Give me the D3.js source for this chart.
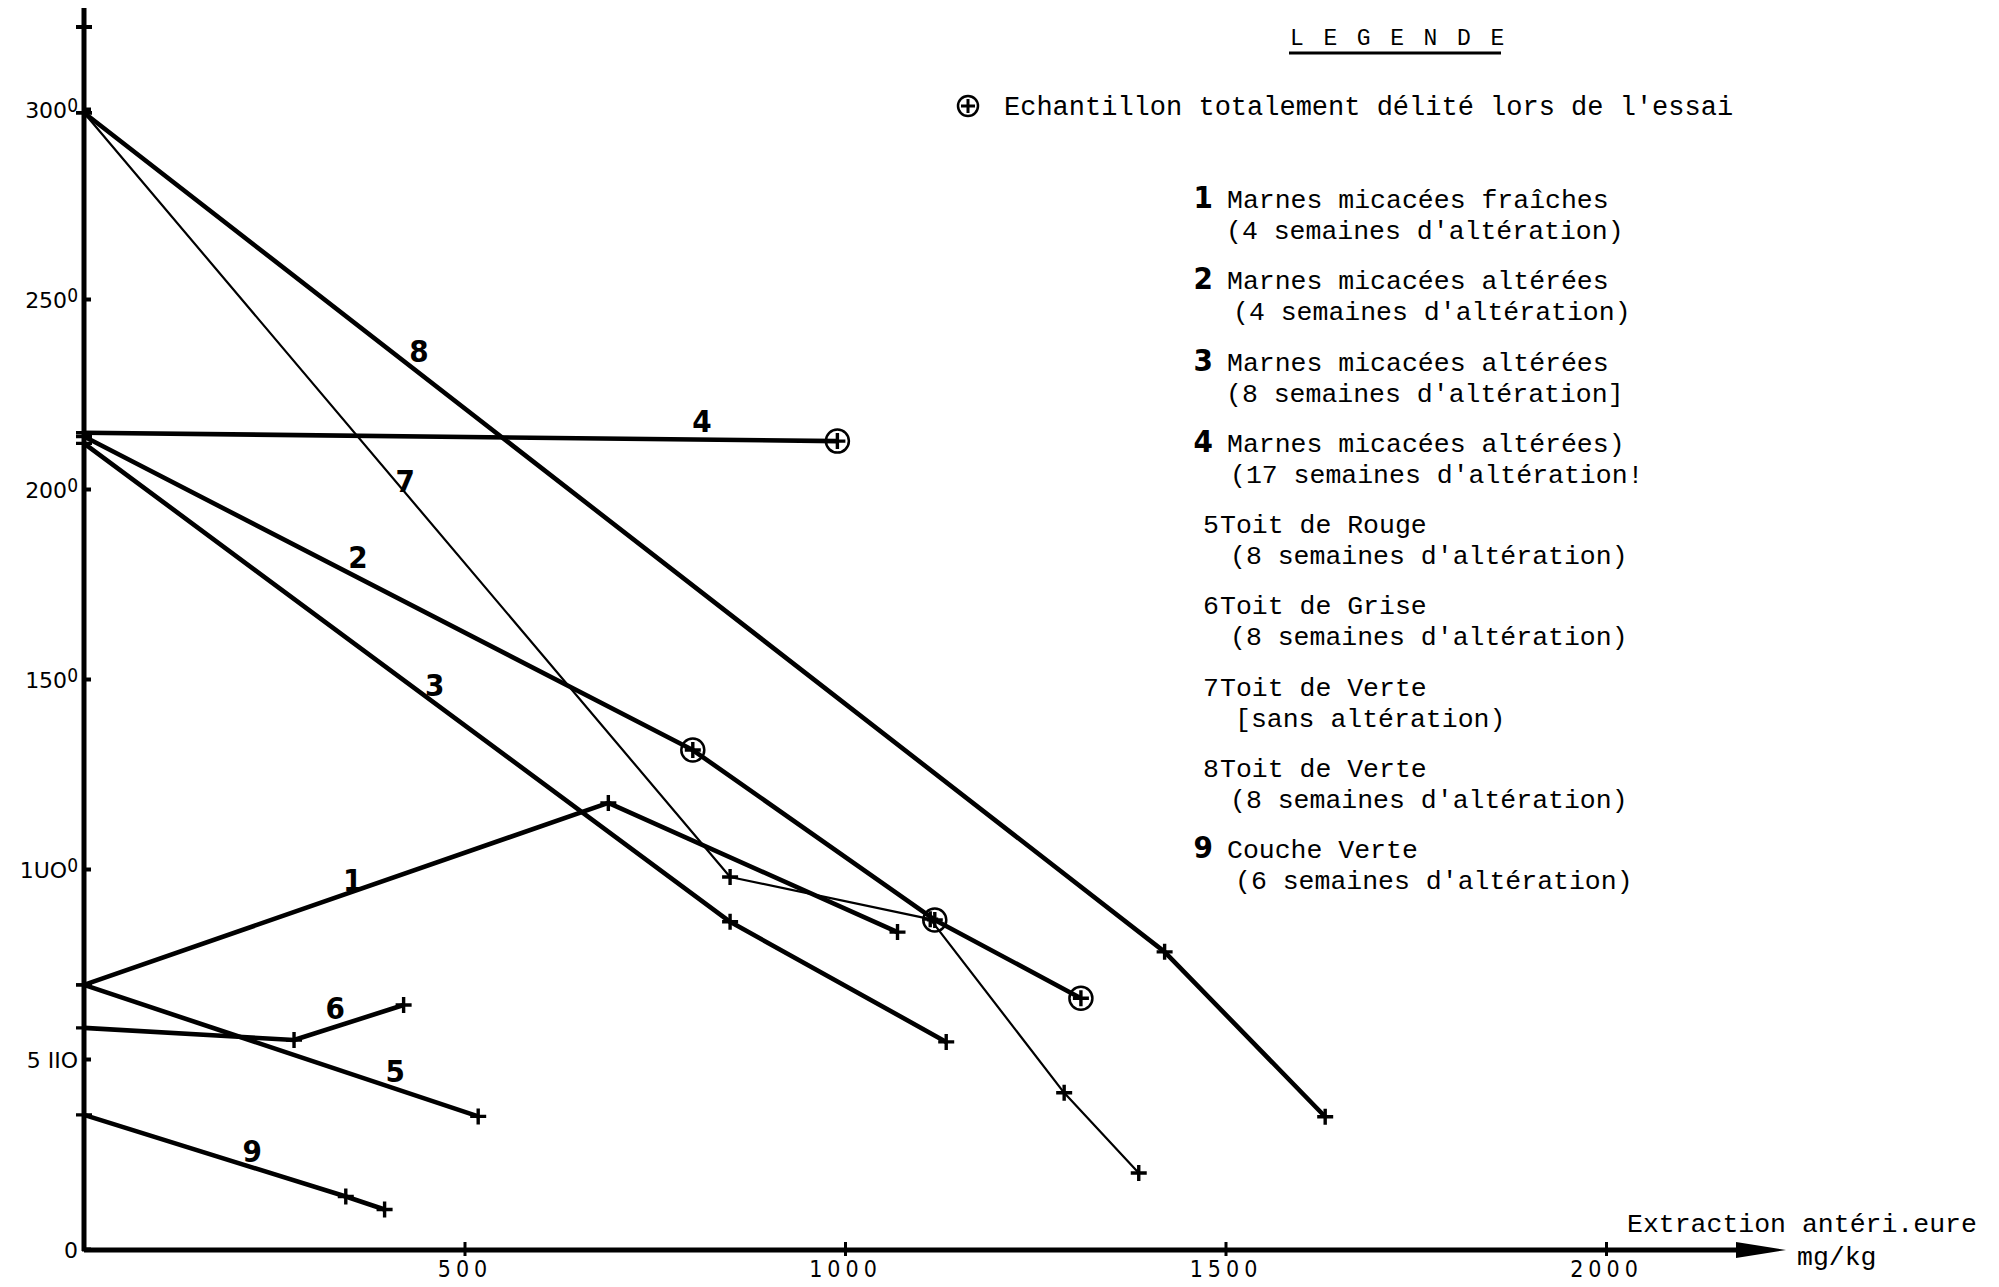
<!DOCTYPE html>
<html>
<head>
<meta charset="utf-8">
<script src="https://cdn.jsdelivr.net/npm/d3@7"></script>
<style>
  html, body { margin: 0; padding: 0; background: #fff; }
  svg { display: block; }
</style>
</head>
<body>
<svg></svg>
<script>
const serie1 = [[0, 695], [689, 1174], [1069, 834]];
const serie2 = [[0, 2138], [800, 1313], [1118, 866], [1310, 660]];
const serie3 = [[0, 2120], [849, 861], [1133, 545]];
const serie4 = [[0, 2148], [990, 2126]];
const serie5 = [[0, 695], [518, 349]];
const serie6 = [[0, 582], [276, 550], [420, 642]];
const serie7 = [[0, 2990], [849, 979], [1112, 868], [1288, 411], [1386, 200]];
const serie8 = [[0, 2990], [1420, 782], [1631, 348]];
const serie9 = [[0, 353], [344, 138], [395, 104]];

const series = [serie1, serie2, serie3, serie4, serie5, serie6, serie7, serie8, serie9];
const seriesNames = ['1', '2', '3', '4', '5', '6', '7', '8', '9'];
const thinSeries = ['7'];
// samples totally disintegrated (index of point in the serie)
const delite = { '2': [1, 2, 3], '4': [1] };
// where the number of each curve is written (data units)
const labelAt = [[353, 971], [360, 1821], [461, 1484], [812, 2179], [409, 468], [330, 634], [422, 2021], [440, 2363], [221, 258]];

const xTicks = [500, 1000, 1500, 2000];
const yTicks = [0, 500, 1000, 1500, 2000, 2500, 3000];
const yTickLabels = ['0', '5 IIO', '1UO', '150', '200', '250', '300'];

const legendNums = ['1', '2', '3', '4', '5', '6', '7', '8', '9'];
const legendBold = [true, true, true, true, false, false, false, false, true];
const legendLine1 = [
  'Marnes micacées fraîches',
  'Marnes micacées altérées',
  'Marnes micacées altérées',
  'Marnes micacées altérées)',
  'Toit de Rouge',
  'Toit de Grise',
  'Toit de Verte',
  'Toit de Verte',
  'Couche Verte'
];
const legendLine2 = [
  '(4 semaines d\'altération)',
  '(4 semaines d\'altération)',
  '(8 semaines d\'altération]',
  '(17 semaines d\'altération!',
  '(8 semaines d\'altération)',
  '(8 semaines d\'altération)',
  '[sans altération)',
  '(8 semaines d\'altération)',
  '(6 semaines d\'altération)'
];

const width = 1999;
const height = 1287;
const mono = '"Liberation Mono", "DejaVu Sans Mono", monospace';
const narrow = '"Liberation Sans Narrow", "DejaVu Sans Condensed", sans-serif';

const svg = d3.select('svg')
  .attr('width', width)
  .attr('height', height);

const x = d3.scaleLinear().domain([0, 2000]).range([84, 1606]);
const y = d3.scaleLinear().domain([0, 3000]).range([1249, 109]);

// ---- axes
const yAxis = svg.append('g')
  .attr('transform', `translate(${x(0)},0)`)
  .call(d3.axisLeft(y).tickValues(yTicks).tickSizeInner(-7).tickSizeOuter(0)
    .tickFormat((d, i) => yTickLabels[i]));
yAxis.select('.domain').remove();
yAxis.selectAll('.tick line').attr('stroke', '#000').attr('stroke-width', 4).attr('x1', -2);
yAxis.selectAll('.tick text')
  .attr('x', -6)
  .attr('dy', '0.4em')
  .attr('font-family', '"DejaVu Sans", sans-serif')
  .attr('font-size', 22)
  .attr('fill', '#000')
  .each(function (d) {
    if (d >= 1000) {
      d3.select(this).append('tspan')
        .attr('font-family', narrow)
        .attr('font-size', 19)
        .attr('dy', -6)
        .text('0');
    }
  });

const xAxis = svg.append('g')
  .attr('transform', `translate(0,${y(0)})`)
  .call(d3.axisBottom(x).tickValues(xTicks).tickSizeInner(7).tickSizeOuter(0)
    .tickFormat(d3.format('d')));
xAxis.select('.domain').remove();
xAxis.selectAll('.tick line').attr('stroke', '#000').attr('stroke-width', 3).attr('y1', -7);
xAxis.selectAll('.tick text')
  .attr('y', 28)
  .attr('dy', 0)
  .attr('font-family', narrow)
  .attr('font-size', 23)
  .attr('letter-spacing', 5)
  .attr('fill', '#000');

// axis lines
svg.append('line')
  .attr('x1', x(0)).attr('x2', x(0))
  .attr('y1', 8).attr('y2', y(0) + 2)
  .attr('stroke', '#000').attr('stroke-width', 5);
svg.append('line')
  .attr('x1', x(0) - 8).attr('x2', x(0) + 8)
  .attr('y1', 27).attr('y2', 27)
  .attr('stroke', '#000').attr('stroke-width', 4);
svg.append('line')
  .attr('x1', x(0)).attr('x2', 1745)
  .attr('y1', y(0) + 1).attr('y2', y(0) + 1)
  .attr('stroke', '#000').attr('stroke-width', 5);
svg.append('path')
  .attr('d', `M1736,${y(0) - 7} L1786,${y(0) + 1} L1736,${y(0) + 9} Z`)
  .attr('fill', '#000');

svg.append('text')
  .attr('x', 1627).attr('y', 1232)
  .attr('font-family', mono).attr('font-size', 26.5)
  .text('Extraction antéri.eure');
svg.append('text')
  .attr('x', 1797).attr('y', 1265)
  .attr('font-family', mono).attr('font-size', 26.5)
  .text('mg/kg');

// ---- curves
const line = d3.line()
  .x(d => x(d[0]))
  .y(d => y(d[1]));

const curves = svg.append('g')
  .selectAll('g')
  .data(series)
  .join('g');

curves.append('path')
  .attr('d', d => line(d))
  .attr('fill', 'none')
  .attr('stroke', '#000')
  .attr('stroke-linejoin', 'round')
  .attr('stroke-width', (d, i) => thinSeries.includes(seriesNames[i]) ? 2.2 : 4.6);

// crosses at the measured points
curves.each(function (d, i) {
  const circled = delite[seriesNames[i]] || [];
  const g = d3.select(this);
  g.selectAll('path.cross')
    .data(d)
    .join('path')
    .attr('class', 'cross')
    .attr('d', p => `M${x(p[0]) - 8},${y(p[1])} H${x(p[0]) + 8} M${x(p[0])},${y(p[1]) - 8} V${y(p[1]) + 8}`)
    .attr('stroke', '#000')
    .attr('stroke-width', 3.4);
  g.selectAll('circle')
    .data(d.filter((p, j) => circled.includes(j)))
    .join('circle')
    .attr('cx', p => x(p[0]))
    .attr('cy', p => y(p[1]))
    .attr('r', 11.5)
    .attr('fill', 'none')
    .attr('stroke', '#000')
    .attr('stroke-width', 2.5);
});

// numbers written along the curves
svg.append('g')
  .selectAll('text')
  .data(labelAt)
  .join('text')
  .attr('x', d => x(d[0]))
  .attr('y', d => y(d[1]))
  .attr('text-anchor', 'middle')
  .attr('dominant-baseline', 'central')
  .attr('font-family', narrow)
  .attr('font-weight', 'bold')
  .attr('font-size', 31)
  .text((d, i) => seriesNames[i]);

// ---- legend
svg.append('text')
  .attr('x', 1290).attr('y', 45)
  .attr('font-family', mono).attr('font-size', 23)
  .attr('letter-spacing', 2.9)
  .text('L E G E N D E');
svg.append('line')
  .attr('x1', 1289).attr('x2', 1501)
  .attr('y1', 53).attr('y2', 53)
  .attr('stroke', '#000').attr('stroke-width', 3);

svg.append('circle')
  .attr('cx', 968).attr('cy', 106).attr('r', 10)
  .attr('fill', 'none').attr('stroke', '#000').attr('stroke-width', 2.5);
svg.append('path')
  .attr('d', 'M961,106 H975 M968,99 V113')
  .attr('stroke', '#000').attr('stroke-width', 3);
svg.append('text')
  .attr('x', 1004).attr('y', 115)
  .attr('font-family', mono).attr('font-size', 27)
  .text('Echantillon totalement délité lors de l\'essai');

const line2X = [1226, 1233, 1226, 1230, 1230, 1230, 1235, 1230, 1235];
const entries = svg.append('g')
  .selectAll('g')
  .data(legendNums)
  .join('g')
  .attr('transform', (d, i) => `translate(0,${208 + 81.25 * i})`);

entries.append('text')
  .attr('x', (d, i) => legendBold[i] ? 1213 : 1203)
  .attr('text-anchor', (d, i) => legendBold[i] ? 'end' : 'start')
  .attr('font-family', (d, i) => legendBold[i] ? narrow : mono)
  .attr('font-weight', (d, i) => legendBold[i] ? 'bold' : 'normal')
  .attr('font-size', (d, i) => legendBold[i] ? 31 : 26.5)
  .text(d => d);

entries.append('text')
  .attr('x', (d, i) => legendBold[i] ? 1227 : 1220)
  .attr('font-family', mono)
  .attr('font-size', 26.5)
  .text((d, i) => legendLine1[i]);

entries.append('text')
  .attr('x', (d, i) => line2X[i])
  .attr('y', 31)
  .attr('font-family', mono)
  .attr('font-size', 26.5)
  .text((d, i) => legendLine2[i]);
</script>
</body>
</html>
